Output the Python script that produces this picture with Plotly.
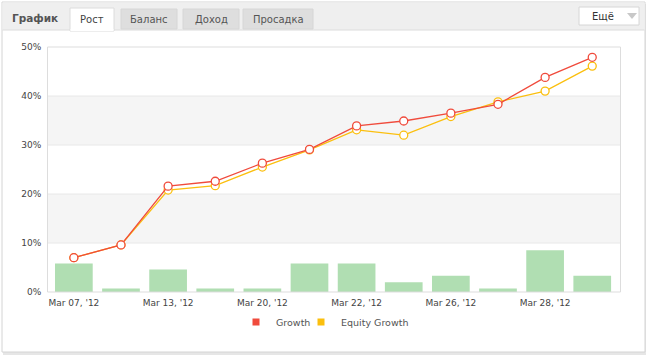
import plotly.graph_objects as go

W, H = 647, 358

categories = ["Mar 07, '12", "Mar 12, '12", "Mar 13, '12", "Mar 19, '12", "Mar 20, '12", "Mar 21, '12",
              "Mar 22, '12", "Mar 23, '12", "Mar 26, '12", "Mar 27, '12", "Mar 28, '12", "Mar 29, '12"]
tick_labels = ["Mar 07, '12", "Mar 13, '12", "Mar 20, '12", "Mar 22, '12", "Mar 26, '12", "Mar 28, '12"]
growth = [7.0, 9.6, 21.6, 22.6, 26.3, 29.1, 33.9, 34.9, 36.5, 38.3, 43.8, 47.9]
equity_growth = [7.0, 9.6, 20.8, 21.7, 25.5, 29.0, 33.1, 32.0, 35.8, 38.8, 41.0, 46.1]
bar_values = [5.8, 0.7, 4.6, 0.7, 0.7, 5.8, 5.8, 2.0, 3.3, 0.7, 8.5, 3.3]
y_ticks = [0, 10, 20, 30, 40, 50]
tabs = ["Рост", "Баланс", "Доход", "Просадка"]

FONT = "DejaVu Sans"
RED = "#f04b3c"
YEL = "#fbbf0e"
GREEN = "#b0deb2"

def px(x):
    return x / W

def py(y):
    return 1 - y / H

fig = go.Figure()
fig.add_trace(go.Bar(x=categories, y=bar_values, marker=dict(color=GREEN, line=dict(width=0)),
                     showlegend=False, hoverinfo="skip"))
fig.add_trace(go.Scatter(x=categories, y=equity_growth, name="Equity Growth", mode="lines+markers",
                         line=dict(color=YEL, width=1.3), showlegend=False,
                         marker=dict(symbol="circle", size=8, color="white", line=dict(color=YEL, width=1.3))))
fig.add_trace(go.Scatter(x=categories, y=growth, name="Growth", mode="lines+markers",
                         line=dict(color=RED, width=1.3), showlegend=False,
                         marker=dict(symbol="circle", size=8, color="white", line=dict(color=RED, width=1.3))))
# legend entries (square markers), each in its own legend for tight placement
fig.add_trace(go.Scatter(x=[None], y=[None], name="Growth", mode="markers", legend="legend",
                         marker=dict(symbol="square", size=7, color=RED), showlegend=True))
fig.add_trace(go.Scatter(x=[None], y=[None], name="Equity Growth", mode="markers", legend="legend2",
                         marker=dict(symbol="square", size=7, color=YEL), showlegend=True))

shapes = []
# outer shadow + box
shapes.append(dict(type="rect", xref="paper", yref="paper", x0=px(3), x1=px(646), y0=py(355), y1=py(4),
                   line=dict(width=0), fillcolor="#e6e6e6", layer="below"))
shapes.append(dict(type="rect", xref="paper", yref="paper", x0=px(2), x1=px(645), y0=py(352), y1=py(2),
                   line=dict(color="#d4d4d4", width=1), fillcolor="white", layer="below"))
# header
shapes.append(dict(type="rect", xref="paper", yref="paper", x0=px(2.5), x1=px(644.5), y0=py(30), y1=py(2.5),
                   line=dict(width=0), fillcolor="#efefef", layer="below"))
shapes.append(dict(type="line", xref="paper", yref="paper", x0=px(2.5), x1=px(644.5), y0=py(30), y1=py(30),
                   line=dict(color="#dcdcdc", width=1), layer="below"))
# tabs
tab_x = [(70, 114), (121, 177), (183, 239), (243, 313)]
for i, (a, b) in enumerate(tab_x):
    if i == 0:
        shapes.append(dict(type="rect", xref="paper", yref="paper", x0=px(a), x1=px(b), y0=py(31), y1=py(8),
                           line=dict(color="#dcdcdc", width=1), fillcolor="white", layer="below"))
        shapes.append(dict(type="line", xref="paper", yref="paper", x0=px(a + 0.5), x1=px(b - 0.5), y0=py(30), y1=py(30),
                           line=dict(color="white", width=2), layer="below"))
    else:
        shapes.append(dict(type="rect", xref="paper", yref="paper", x0=px(a), x1=px(b), y0=py(29), y1=py(9),
                           line=dict(color="#d6d6d6", width=1), fillcolor="#dedede", layer="below"))
# Ещё button
shapes.append(dict(type="rect", xref="paper", yref="paper", x0=px(579), x1=px(639), y0=py(25), y1=py(7),
                   line=dict(color="#d6d6d6", width=1), fillcolor="white", layer="below"))
shapes.append(dict(type="path", xref="paper", yref="paper",
                   path=f"M {px(627)} {py(13)} L {px(637)} {py(13)} L {px(632)} {py(19)} Z",
                   line=dict(width=0), fillcolor="#c8c8c8", layer="below"))
# alternating bands and grid lines across the full plot frame
for lo, hi in [(10, 20), (30, 40)]:
    shapes.append(dict(type="rect", xref="paper", yref="y", x0=px(47.5), x1=px(620.5), y0=lo, y1=hi,
                       line=dict(width=0), fillcolor="#f5f5f5", layer="below"))
for v in y_ticks[1:-1]:
    shapes.append(dict(type="line", xref="paper", yref="y", x0=px(47.5), x1=px(620.5), y0=v, y1=v,
                       line=dict(color="#e8e8e8", width=1), layer="below"))
# plot frame
shapes.append(dict(type="rect", xref="paper", yref="y domain", x0=px(47.5), x1=px(620.5), y0=0, y1=1,
                   line=dict(color="#dddddd", width=1), fillcolor="rgba(0,0,0,0)", layer="above"))

annotations = [
    dict(text="<b>График</b>", x=px(35), y=py(18), xref="paper", yref="paper", showarrow=False,
         xanchor="center", yanchor="middle", font=dict(family=FONT, size=10.5, color="#555555")),
    dict(text="Ещё", x=px(603), y=py(16.5), xref="paper", yref="paper", showarrow=False,
         xanchor="center", yanchor="middle", font=dict(family=FONT, size=10, color="#333333")),
]
for (a, b), t in zip(tab_x, tabs):
    annotations.append(dict(text=t, x=px((a + b) / 2), y=py(19.5), xref="paper", yref="paper", showarrow=False,
                            xanchor="center", yanchor="middle",
                            font=dict(family=FONT, size=10, color="#444444" if t == "Рост" else "#555555")))

leg_common = dict(orientation="h", xanchor="left", y=py(322), yanchor="middle",
                  font=dict(family=FONT, size=9.5, color="#555555"), itemwidth=30,
                  bgcolor="rgba(0,0,0,0)", borderwidth=0)

fig.update_layout(
    width=W, height=H, margin=dict(l=0, r=0, t=0, b=0, autoexpand=False),
    paper_bgcolor="white", plot_bgcolor="rgba(0,0,0,0)",
    font=dict(family=FONT, size=9, color="#555555"),
    bargap=0.2,
    shapes=shapes, annotations=annotations,
    legend=dict(x=px(236), **leg_common),
    legend2=dict(x=px(301), **leg_common),
    xaxis=dict(domain=[px(50.3), px(615.8)], type="category", range=[-0.5, 11.5], tickmode="array",
               tickvals=tick_labels, ticktext=tick_labels, showgrid=False, zeroline=False,
               showline=False, ticks="", tickfont=dict(size=9, color="#444444"), automargin=False,
               ticklabelstandoff=4),
    yaxis=dict(domain=[py(292), py(47)], range=[0, 50], tickvals=y_ticks,
               ticktext=[f"{v}%" for v in y_ticks], showgrid=False, zeroline=False,
               showline=False, ticks="", tickfont=dict(size=9, color="#444444"), automargin=False,
               ticklabelstandoff=8),
)
fig.write_html("out.html", config={"displayModeBar": False},
               post_script="document.body.style.margin='0';document.body.style.padding='0';")
